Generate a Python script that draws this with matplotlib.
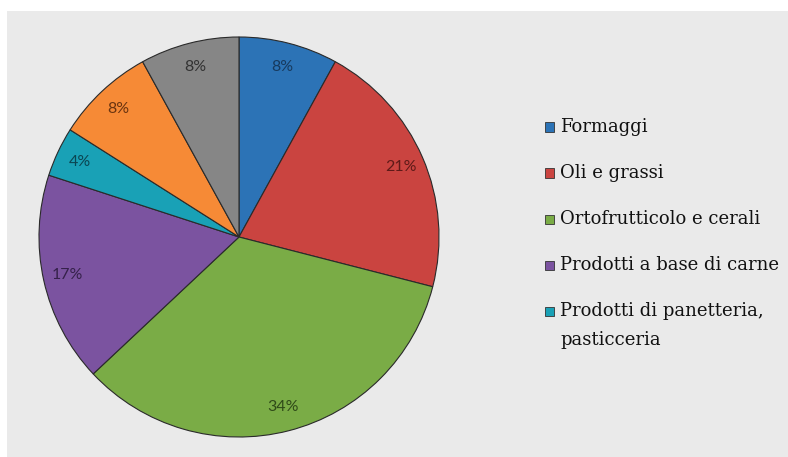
import matplotlib
matplotlib.use("Agg")
import matplotlib.pyplot as plt
from matplotlib.patches import Rectangle

# Data
categories = ["Formaggi", "Oli e grassi", "Ortofrutticolo e cerali",
              "Prodotti a base di carne", "Prodotti di panetteria,\npasticceria",
              "", ""]
values = [8, 21, 34, 17, 4, 8, 8]
pct_labels = ["8%", "21%", "34%", "17%", "4%", "8%", "8%"]
legend_count = 5

colors = ["#2C73B6", "#CA4440", "#7AAC46", "#7B53A0", "#19A1B6", "#F68A36", "#868686"]
label_colors = ["#173A5E", "#5E1A18", "#2F4A18", "#35214A", "#0B4652", "#6A3410", "#333333"]

W, H = 788, 457
fig = plt.figure(figsize=(W / 100, H / 100), dpi=100)
fig.patch.set_facecolor("white")

# textured background panel (flat approximation)
fig.patches.append(Rectangle((7 / W, 0), 1 - 7 / W, (H - 11) / H,
                             transform=fig.transFigure, facecolor="#eaeaea",
                             edgecolor="none", zorder=-5))

ax = fig.add_axes([39 / W, (H - 437) / H, 400 / W, 400 / H])
ax.set_zorder(2)
ax.set_facecolor("none")
wedges, texts = ax.pie(values, colors=colors, startangle=90, counterclock=False,
                       labels=pct_labels, labeldistance=0.88,
                       wedgeprops=dict(edgecolor="#2a2a2a", linewidth=0.8),
                       textprops=dict(fontsize=11.5, family="Lato"))
for t, c in zip(texts, label_colors):
    t.set_color(c)
    t.set_horizontalalignment("center")
    t.set_verticalalignment("center")
ax.set_xlim(-1, 1)
ax.set_ylim(-1, 1)
ax.set_aspect("equal")
ax.axis("off")

# legend drawn manually
row_y = [127, 173, 219, 265, 311]
for i in range(legend_count):
    y = row_y[i]
    fig.patches.append(Rectangle(((545) / W, (H - y - 4.5) / H), 9 / W, 9 / H,
                                 transform=fig.transFigure, facecolor=colors[i],
                                 edgecolor="#333333", linewidth=0.6, zorder=3))
    fig.text(560 / W, (H - y + 9) / H, categories[i], fontsize=13,
             family="DejaVu Serif", color="#111111", ha="left", va="top",
             linespacing=1.8)

fig.savefig("out.png", dpi=100)
